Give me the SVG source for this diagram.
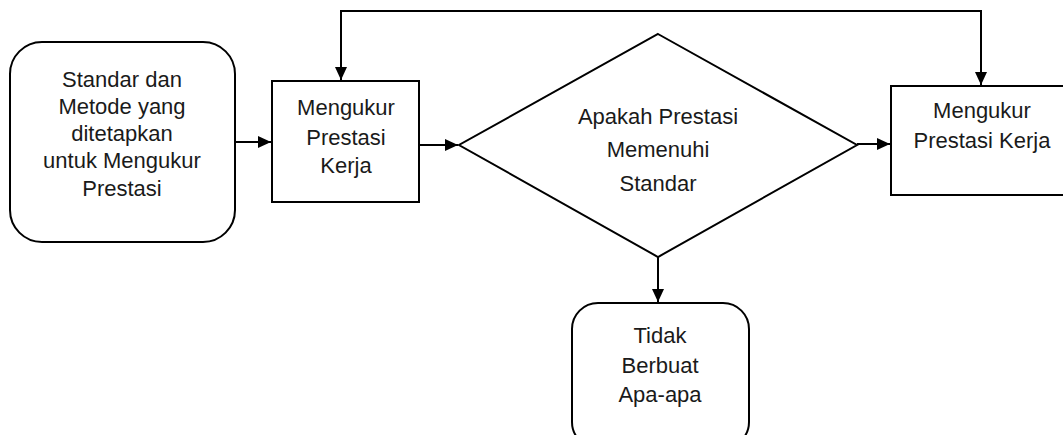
<svg xmlns="http://www.w3.org/2000/svg" width="1063" height="435" viewBox="0 0 1063 435">
<style>
.shape{fill:#fff;stroke:#000;stroke-width:2}
.conn{fill:none;stroke:#000;stroke-width:2}
text{font-family:"Liberation Sans",Arial,sans-serif;font-size:22px;fill:#1a1a1a;text-anchor:middle}
</style>
<defs>
<marker id="arr" viewBox="0 0 13 12" refX="13" refY="6" markerWidth="13" markerHeight="12" markerUnits="userSpaceOnUse" orient="auto-start-reverse">
<path d="M0,0 L13,6 L0,12 Z" fill="#000"/>
</marker>
</defs>
<g id="connectors">
<path class="conn" d="M235,142 L271,142" marker-end="url(#arr)"/>
<path class="conn" d="M419,145 L458,145" marker-end="url(#arr)"/>
<path class="conn" d="M857,144 L890,144" marker-end="url(#arr)"/>
<path class="conn" d="M658,257 L658,302" marker-end="url(#arr)"/>
<path class="conn" d="M341,80 L341,11 L981,11 L981,85" marker-start="url(#arr)" marker-end="url(#arr)"/>
</g>
<g id="node-standar">
<rect class="shape" x="10" y="42" width="225" height="200" rx="32" ry="32"/>
<text x="122" y="87">Standar dan</text>
<text x="122" y="114">Metode yang</text>
<text x="122" y="141">ditetapkan</text>
<text x="122" y="168">untuk Mengukur</text>
<text x="122" y="196">Prestasi</text>
</g>
<g id="node-mengukur1">
<rect class="shape" x="272" y="81" width="147" height="121"/>
<text x="346" y="115">Mengukur</text>
<text x="346" y="145">Prestasi</text>
<text x="346" y="173">Kerja</text>
</g>
<g id="node-decision">
<polygon class="shape" points="658,34 857,145 658,257 459,145"/>
<text x="658" y="124">Apakah Prestasi</text>
<text x="658" y="157">Memenuhi</text>
<text x="658" y="191">Standar</text>
</g>
<g id="node-mengukur2">
<rect class="shape" x="891" y="86" width="180" height="109"/>
<text x="982" y="118">Mengukur</text>
<text x="982" y="148">Prestasi Kerja</text>
</g>
<g id="node-tidak">
<rect class="shape" x="572" y="303" width="177" height="145" rx="26" ry="26"/>
<text x="660" y="343">Tidak</text>
<text x="660" y="373">Berbuat</text>
<text x="660" y="402">Apa-apa</text>
</g>
</svg>
